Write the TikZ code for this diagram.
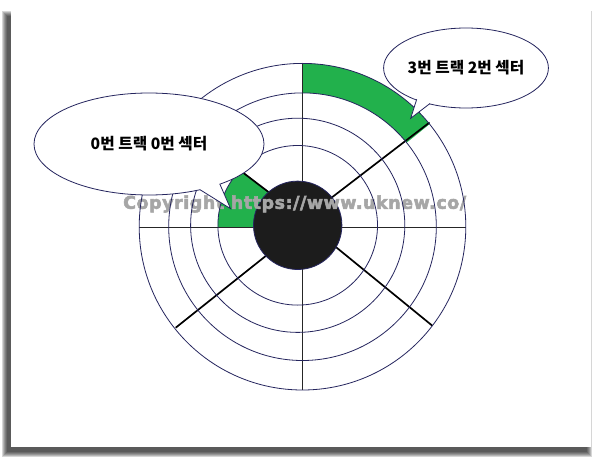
\documentclass[tikz,border=0pt]{standalone}
\usepackage{fontspec}
\usetikzlibrary{shapes.geometric}
\newfontfamily\krfont{Noto Sans CJK KR}
\newfontfamily\wmfont{DejaVu Sans}[LetterSpace=3, FakeBold=3]
\definecolor{navy}{HTML}{25255E}
\definecolor{sectgreen}{HTML}{22B14C}
\definecolor{diskfill}{HTML}{1C1C1C}
\begin{document}
\begin{tikzpicture}[x=1pt,y=-1pt,
  track/.style={draw=navy, line width=0.8pt},
  spoke/.style={draw=black, line width=1.7pt},
  axisline/.style={draw=black!85, line width=1.3pt},
  callout/.style={ellipse, draw=navy, line width=0.8pt, fill=white, inner sep=0pt,
    font=\krfont\bfseries\fontsize{15.7}{17}\selectfont},
  tailline/.style={draw=navy, line width=0.8pt, line join=miter},
]
\useasboundingbox (0,0) rectangle (602,460);
% page shadow and page
\foreach \k in {0,...,5}{
  \fill[black, opacity=0.16] (7-\k,16-\k) rectangle (586.5+\k,451.5+\k);
}
\fill[white] (11,11) rectangle (590.5,446.5);

\coordinate (C) at (302.5,226.7);
\coordinate (c) at (297.7,225.3);

% green sector: track 3, sector 2
\begin{scope}
  \clip (C) -- (302.5,40) -- (460,40) -- (458.1,101.1) -- cycle;
  \fill[sectgreen, even odd rule] (C) circle[radius=163.3] (C) circle[radius=133.8];
\end{scope}
% green sector: track 0, sector 0
\begin{scope}
  \clip (c) circle[radius=79.8];
  \fill[sectgreen] (171.7,118.3) -- (290,208.4) -- (297.7,227.2) -- (150,227.2) -- cycle;
\end{scope}

% axes
\coordinate (vt) at (302.3,63.4);
\coordinate (vb) at (302.3,390);
\coordinate (hl) at (139.2,227.2);
\coordinate (hr) at (465.8,227.2);
\draw[axisline] (vt) -- (vb);
\draw[axisline] (hl) -- (hr);

% diagonal spokes
\coordinate (urIn) at (310,214.2);
\coordinate (urOut) at (429.5,122.5);
\coordinate (lrIn) at (308,224.3);
\coordinate (lrOut) at (432.3,325.7);
\coordinate (llOut) at (175.7,327.7);
\coordinate (ulIn) at (290,208.4);
\coordinate (ulOut) at (171.7,118.3);
\draw[spoke] (urIn) -- (urOut);
\draw[spoke] (lrIn) -- (lrOut);
\draw[spoke] (C) -- (llOut);
\draw[spoke] (ulIn) -- (ulOut);

% spindle
\node[circle, fill=diskfill, draw=navy, line width=0.8pt, minimum size=88.4pt, inner sep=0pt] (disk) at (c) {};

% watermark
\node[anchor=west, text=black!35, font=\wmfont\bfseries\fontsize{17.5}{20}\selectfont, inner sep=0pt] (wm) at (123,204) {Copyright https://www.uknew.co/};

% tracks (over the watermark)
\draw[track] (C) circle[radius=163.3] (C) circle[radius=133.8]
             (c) circle[radius=107.1] (c) circle[radius=79.8];

% callouts
\node[callout, minimum width=230pt, minimum height=102pt] (cl0) at (149,144) {0번 트랙 0번 섹터};
\coordinate (t0a) at (200,189.7);
\coordinate (t0tip) at (230.6,208.7);
\coordinate (t0b) at (219.8,184.0);
\coordinate (t0in) at (210,180);
\fill[white] (t0a) -- (t0tip) -- (t0b) -- (t0in) -- cycle;
\draw[tailline] (t0a) -- (t0tip) -- (t0b);

\node[callout, minimum width=156pt, minimum height=80pt] (cl3) at (466,68) {3번 트랙 2번 섹터};
\coordinate (t3a) at (416.7,99.3);
\coordinate (t3tip) at (410.7,118.3);
\coordinate (t3b) at (430,103.5);
\coordinate (t3in) at (423,95);
\fill[white] (t3a) -- (t3tip) -- (t3b) -- (t3in) -- cycle;
\draw[tailline] (t3a) -- (t3tip) -- (t3b);
\end{tikzpicture}
\end{document}
